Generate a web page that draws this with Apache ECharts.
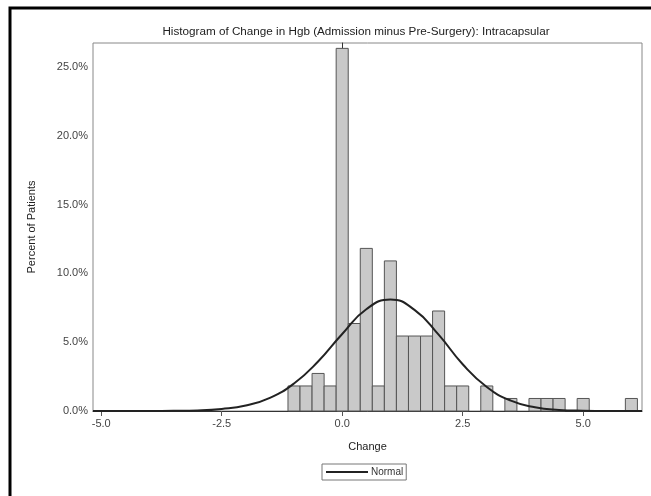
<!DOCTYPE html>
<html>
<head>
<meta charset="utf-8">
<script src="https://cdn.jsdelivr.net/npm/echarts@6/dist/echarts.min.js"></script>
<style>
html,body{margin:0;padding:0;background:#fff;}
#main{width:651px;height:496px;}
</style>
</head>
<body>
<div id="main"></div>
<script>
// histogram bins (midpoints, width 0.25) and percent of patients
var binMid = [-1.0, -0.75, -0.5, -0.25, 0, 0.25, 0.5, 0.75, 1.0, 1.25, 1.5, 1.75, 2.0, 2.25, 2.5, 3.0, 3.5, 4.0, 4.25, 4.5, 5.0, 6.0];
var binPct = [1.82, 1.82, 2.73, 1.82, 26.36, 6.36, 11.82, 1.82, 10.91, 5.45, 5.45, 5.45, 7.27, 1.82, 1.82, 1.82, 0.91, 0.91, 0.91, 0.91, 0.91, 0.91];
var binWidth = 0.25;
// normal curve
var normalX = [-5.17, -4, -3.5, -3, -2.5, -2, -1.5, -1, -0.5, 0, 0.5, 1, 1.5, 2, 2.5, 3, 3.5, 4, 4.5, 5, 5.5, 6.22];
var normalY = [0, 0, 0.01, 0.04, 0.15, 0.4, 0.95, 2.0, 3.6, 5.6, 7.4, 8.1, 7.35, 5.55, 3.4, 1.75, 0.75, 0.27, 0.08, 0.02, 0, 0];
// tick labels
var xTicks = [-5, -2.5, 0, 2.5, 5];
var yTicks = [0, 5, 10, 15, 20, 25];

var font = 'Liberation Sans';
var bars = [];
for (var i = 0; i < binMid.length; i++) bars.push([binMid[i], binPct[i]]);
var curve = [];
for (var j = 0; j < normalX.length; j++) curve.push([normalX[j], normalY[j]]);

var option = {
	backgroundColor: '#fff',
	animation: false,
	title: {
		text: 'Histogram of Change in Hgb (Admission minus Pre-Surgery): Intracapsular',
		left: 351, top: 21, textAlign: 'center',
		textStyle: {fontFamily: font, fontSize: 11.7, fontWeight: 'normal', color: '#222'}
	},
	legend: {
		data: ['Normal'],
		left: 322, top: 464,
		itemWidth: 42, itemHeight: 2, itemGap: 4,
		padding: [3, 3, 3, 3],
		borderColor: '#777', borderWidth: 1,
		textStyle: {fontFamily: font, fontSize: 10, color: '#333', padding: [0, 0, 0, -2]}
	},
	grid: {left: 93, top: 43, right: 9, bottom: 85, show: true, borderColor: '#888', borderWidth: 1},
	xAxis: {
		type: 'value', min: -5.17, max: 6.22,
		name: 'Change', nameLocation: 'middle', nameGap: 30,
		nameTextStyle: {fontFamily: font, fontSize: 11, color: '#222'},
		axisLine: {show: true, lineStyle: {color: '#333'}},
		axisTick: {show: true, length: 5, customValues: xTicks, lineStyle: {color: '#555'}},
		axisLabel: {customValues: xTicks, fontFamily: font, fontSize: 11, color: '#444', margin: 7,
			formatter: function(v){return v.toFixed(1);}},
		splitLine: {show: false}
	},
	yAxis: {
		type: 'value', min: 0, max: 26.75,
		name: 'Percent of Patients', nameLocation: 'middle', nameGap: 56,
		nameTextStyle: {fontFamily: font, fontSize: 11, color: '#222'},
		axisLine: {show: true, lineStyle: {color: '#333'}},
		axisTick: {show: true, length: 5, customValues: yTicks, lineStyle: {color: '#555'}},
		axisLabel: {customValues: yTicks, fontFamily: font, fontSize: 11, color: '#444', margin: 5,
			formatter: function(v){return v.toFixed(1) + '%';}},
		splitLine: {show: false}
	},
	series: [
		{
			name: 'Percent',
			type: 'custom',
			data: bars,
			renderItem: function(params, api){
				var x = api.value(0), y = api.value(1);
				var p0 = api.coord([x - binWidth / 2, y]);
				var p1 = api.coord([x + binWidth / 2, 0]);
				return {
					type: 'rect',
					shape: {x: p0[0], y: p0[1], width: p1[0] - p0[0], height: p1[1] - p0[1]},
					style: {fill: '#c9c9c9', stroke: '#555', lineWidth: 1}
				};
			}
		},
		{
			name: 'Normal',
			type: 'line',
			data: curve,
			smooth: true,
			symbol: 'none',
			lineStyle: {color: '#222', width: 2},
			itemStyle: {color: '#222'}
		}
	],
	graphic: [
		{type: 'rect', shape: {x: 10, y: 8, width: 700, height: 600}, style: {fill: null, stroke: '#000', lineWidth: 3}, silent: true}
	]
};
echarts.init(document.getElementById('main')).setOption(option);
</script>
</body>
</html>
